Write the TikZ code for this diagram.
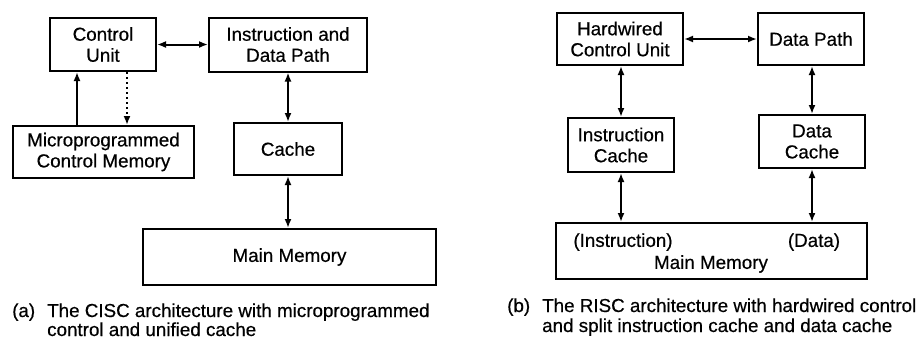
\documentclass[tikz,border=0pt]{standalone}
\usepackage{fontspec}
\setmainfont{Liberation Sans}[FakeBold=0.5]
\usetikzlibrary{arrows.meta}
\begin{document}
\begin{tikzpicture}[x=1pt,y=-1pt,
  box/.style={draw,line width=2pt,align=center,inner sep=0pt,
    font=\fontsize{18.8}{21}\selectfont},
  txt/.style={inner sep=0pt,font=\fontsize{18.8}{21}\selectfont},
  captext/.style={inner sep=0pt,anchor=base west,
    font=\fontsize{18.8}{20}\selectfont},
  link/.style={line width=2pt,-{Latex[length=9pt,width=7pt]}},
  biway/.style={line width=2pt,{Latex[length=9pt,width=7pt]}-{Latex[length=9pt,width=7pt]}},
  hint/.style={line width=2pt,dash pattern=on 2pt off 3pt,-{Latex[length=9pt,width=7pt]}}]
\useasboundingbox (0,0) rectangle (920,341);

% (a) CISC with microprogrammed control and a unified cache
\node[box,minimum width=106pt,minimum height=53pt] (cu) at (103,44.5) {Control\\Unit};
\node[box,minimum width=158pt,minimum height=54pt] (idp) at (288,44.5) {Instruction and\\Data Path};
\node[box,minimum width=181pt,minimum height=52pt] (mcm) at (103.5,152) {Microprogrammed\\Control Memory};
\node[box,minimum width=108pt,minimum height=52pt] (cache) at (288,149) {Cache};
\node[box,minimum width=293pt,minimum height=56pt] (mm) at (289.5,257) {Main Memory};

\draw[biway] (cu.east) -- (idp.west);
\draw[link] ([xshift=28pt]cu.south west |- mcm.north) -- ([xshift=28pt]cu.south west);
\draw[hint] ([xshift=78pt]cu.south west) -- ([xshift=78pt]cu.south west |- mcm.north);
\draw[biway] (idp.south) -- (idp.south |- cache.north);
\draw[biway] (cache.south) -- (cache.south |- mm.north);

\node[captext] (capa) at (12,317) {(a)};
\node[captext] (capa1) at (47,317) {The CISC architecture with microprogrammed};
\node[captext] (capa2) at (47,336) {control and unified cache};

% (b) RISC with hardwired control and split caches
\node[box,minimum width=126pt,minimum height=52pt] (hcu) at (620,39) {Hardwired\\Control Unit};
\node[box,minimum width=106pt,minimum height=52pt] (dp) at (811,39) {Data Path};
\node[box,minimum width=106pt,minimum height=54pt] (ic) at (621,145) {Instruction\\Cache};
\node[box,minimum width=106pt,minimum height=53pt] (dc) at (812,141.5) {Data\\Cache};
\node[box,minimum width=311pt,minimum height=56pt] (mm2) at (711.5,251) {};
\node[txt] (mmi) at (623,242) {(Instruction)};
\node[txt] (mmd) at (814,242) {(Data)};
\node[txt] (mml) at (711,264) {Main Memory};

\draw[biway] (hcu.east) -- (dp.west);
\draw[biway] (ic.north |- hcu.south) -- (ic.north);
\draw[biway] (ic.south) -- (ic.south |- mm2.north);
\draw[biway] (dc.north |- dp.south) -- (dc.north);
\draw[biway] (dc.south) -- (dc.south |- mm2.north);

\node[captext] (capb) at (507,312) {(b)};
\node[captext] (capb1) at (542,312) {The RISC architecture with hardwired control};
\node[captext] (capb2) at (542,332) {and split instruction cache and data cache};
\end{tikzpicture}
\end{document}
